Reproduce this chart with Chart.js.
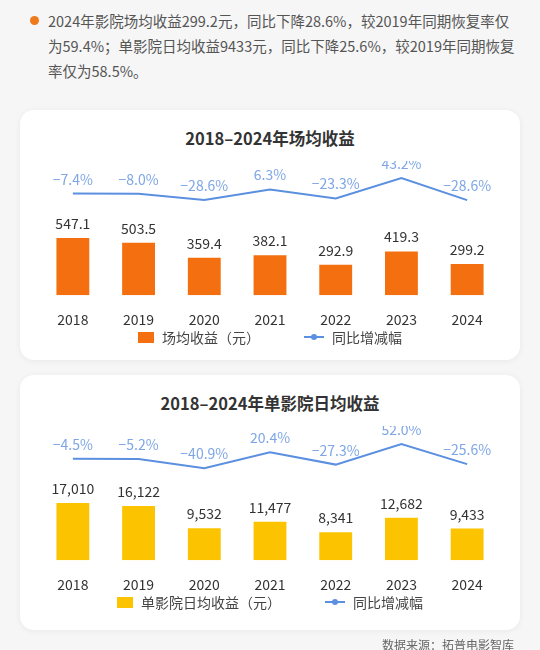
<!DOCTYPE html>
<html><head><meta charset="utf-8">
<script src="https://cdn.jsdelivr.net/npm/chart.js@4"></script>
<style>
body{margin:0;width:540px;height:650px;background:#f6f6f6;font-family:"Noto Sans CJK SC",sans-serif;overflow:hidden;position:relative}
.intro{position:absolute;left:48px;top:8px;width:470px;font-size:14.5px;line-height:25px;color:#555}
.dot{position:absolute;left:30px;top:16px;width:9px;height:9px;border-radius:50%;background:#f07a1a}
.card{position:absolute;left:20px;width:500px;background:#fff;border-radius:14px;box-shadow:0 1px 6px rgba(0,0,0,.06)}
.card h3{margin:0;position:absolute;top:16px;width:100%;text-align:center;font-size:16.5px;font-weight:600;color:#333}
.card canvas{position:absolute;left:0;top:51px}
.legend{position:absolute;top:217px;width:100%;display:flex;justify-content:center;gap:44px;font-size:14px;color:#444}
.legend span{display:flex;align-items:center}
.sw{display:inline-block;width:16px;height:11px;margin-right:8px}
.ln{display:inline-block;width:20px;height:2px;background:#5b8fe0;margin-right:8px;position:relative}
.ln:after{content:"";position:absolute;left:7px;top:-2px;width:6px;height:6px;border-radius:50%;background:#5b8fe0}
.src{position:absolute;right:26px;top:636px;font-size:12px;color:#666}
</style></head><body>
<div class="dot"></div>
<div class="intro">2024年影院场均收益299.2元，同比下降28.6%，较2019年同期恢复率仅为59.4%；单影院日均收益9433元，同比下降25.6%，较2019年同期恢复率仅为58.5%。</div>
<div class="card" style="top:110px;height:250px"><h3>2018–2024年场均收益</h3><canvas id="c1" width="500" height="175"></canvas>
<div class="legend"><span><i class="sw" style="background:#f36f0f"></i>场均收益（元）</span><span><i class="ln"></i>同比增减幅</span></div></div>
<div class="card" style="top:375px;height:255px"><h3>2018–2024年单影院日均收益</h3><canvas id="c2" width="500" height="175"></canvas>
<div class="legend"><span><i class="sw" style="background:#fcc400"></i>单影院日均收益（元）</span><span><i class="ln"></i>同比增减幅</span></div></div>
<div class="src">数据来源：拓普电影智库</div>
<script>
const years = ['2018','2019','2020','2021','2022','2023','2024'];
const sessionRevenue = [547.1, 503.5, 359.4, 382.1, 292.9, 419.3, 299.2];
const sessionYoY = [-7.4, -8.0, -28.6, 6.3, -23.3, 43.2, -28.6];
const dailyRevenue = [17010, 16122, 9532, 11477, 8341, 12682, 9433];
const dailyYoY = [-4.5, -5.2, -40.9, 20.4, -27.3, 52.0, -25.6];

const labelPlugin = {
  id: 'labels',
  afterDatasetsDraw(chart, args, opts) {
    const ctx = chart.ctx;
    ctx.save();
    ctx.textAlign = 'center';
    ctx.font = '14px "Noto Sans CJK SC", sans-serif';
    chart.data.datasets.forEach((ds, i) => {
      chart.getDatasetMeta(i).data.forEach((el, j) => {
        ctx.fillStyle = ds.type === 'line' ? '#7ea6e6' : '#333';
        const v = ds.data[j];
        let txt = ds.type === 'line' ? v.toFixed(1) + '%' : (opts.thousands ? v.toLocaleString('en-US') : v.toFixed(1));
        if (ds.type === 'line') txt = txt.replace('-', '−');
        ctx.fillText(txt, el.x, el.y - 9);
      });
    });
    ctx.restore();
  }
};

function makeChart(id, bars, yoy, color, barMax, lineMin, lineMax, thousands) {
  new Chart(document.getElementById(id), {
    data: {
      labels: years,
      datasets: [
        { type: 'line', data: yoy, yAxisID: 'y1', borderColor: '#5b8fe0', borderWidth: 2,
          pointRadius: 0, tension: 0 },
        { type: 'bar', data: bars, yAxisID: 'y', backgroundColor: color, barPercentage: 0.5, categoryPercentage: 1 }
      ]
    },
    options: {
      responsive: false, animation: false,
      layout: { padding: { left: 20, right: 20, top: 0, bottom: 0 } },
      plugins: { legend: { display: false }, tooltip: { enabled: false }, labels: { thousands } },
      scales: {
        x: { grid: { display: false }, border: { display: false },
             ticks: { color: '#333', font: { size: 14, family: '"Noto Sans CJK SC", sans-serif' }, padding: 8 } },
        y: { display: false, min: 0, max: barMax },
        y1: { display: false, min: lineMin, max: lineMax }
      }
    },
    plugins: [labelPlugin]
  });
}
makeChart('c1', sessionRevenue, sessionYoY, '#f36f0f', 1286, -339, 99, false);
makeChart('c2', dailyRevenue, dailyYoY, '#fcc400', 39990, -397, 122, true);
</script>
</body></html>
